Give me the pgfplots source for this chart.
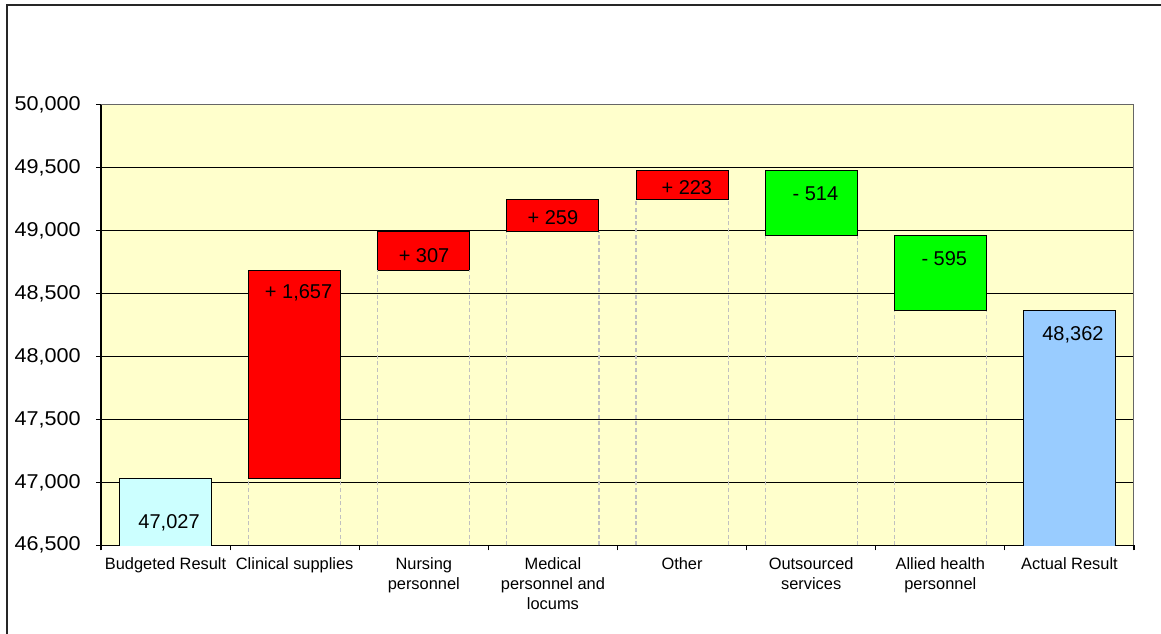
\documentclass[border=0pt]{standalone}
\usepackage{fontspec}
\setmainfont{Liberation Sans}
\newfontfamily\tickfont{Liberation Sans}[FakeStretch=1.08]
\usepackage{pgfplots}
\pgfplotsset{compat=1.18}
\definecolor{bgyellow}{HTML}{FFFFCC}
\definecolor{barcyan}{HTML}{CCFFFF}
\definecolor{barred}{HTML}{FF0000}
\definecolor{bargreen}{HTML}{00FF00}
\definecolor{barblue}{HTML}{99CCFF}
\definecolor{dashgray}{HTML}{C0C0C0}
\begin{document}
\begin{tikzpicture}
\useasboundingbox (-75.75pt,-66.5pt) rectangle (795pt,409pt);
\draw[line width=1.5pt, black!85] (-70.5pt,-80pt) -- (-70.5pt,405.2pt) -- (800pt,405.2pt);
\begin{axis}[
  at={(0,0)}, anchor=south west,
  scale only axis, width=774.75pt, height=330.5pt,
  xmin=-0.5, xmax=7.5, ymin=46500, ymax=50000,
  ybar stacked, bar width=0.713,
  axis background/.style={fill=bgyellow},
  axis x line*=bottom, axis y line*=left,
  axis line style={black, line width=0.8pt},
  ytick={46500,47000,...,50000},
  scaled y ticks=false,
  ymajorgrids, grid style={black, line width=0.8pt},
  xtick={0,...,7},
  xticklabels={Budgeted Result, Clinical supplies, Nursing\\personnel, Medical\\personnel and\\locums, Other, Outsourced\\services, Allied health\\personnel, Actual Result},
  minor xtick={-0.5,0.5,...,7.5},
  tick align=outside,
  major tick length=3.75pt, minor tick length=3.75pt,
  major x tick style={draw=none},
  minor x tick style={black, line width=0.8pt},
  major y tick style={black, line width=0.8pt},
  xticklabel style={align=center, anchor=north, font=\fontsize{12.3}{15}\selectfont, yshift=-2pt},
  yticklabel style={font=\tickfont\fontsize{15}{17}\selectfont, xshift=-8pt},
  /pgf/number format/.cd, fixed, 1000 sep={,}, assume math mode=true,
]
\addplot[fill=none, draw=none]
  coordinates {(0,0) (1,47027) (2,48684) (3,48991) (4,49250) (5,48959) (6,48364) (7,0)};
\addplot[fill=barcyan, draw=black, line width=0.75pt]
  coordinates {(0,47027) (1,0) (2,0) (3,0) (4,0) (5,0) (6,0) (7,0)};
\addplot[fill=barred, draw=black, line width=0.75pt]
  coordinates {(0,0) (1,1657) (2,307) (3,259) (4,223) (5,0) (6,0) (7,0)};
\addplot[fill=bargreen, draw=black, line width=0.75pt]
  coordinates {(0,0) (1,0) (2,0) (3,0) (4,0) (5,514) (6,595) (7,0)};
\addplot[fill=barblue, draw=black, line width=0.75pt]
  coordinates {(0,0) (1,0) (2,0) (3,0) (4,0) (5,0) (6,0) (7,48362)};
\draw[black!60, line width=1pt] (rel axis cs:0,1) -- (rel axis cs:1,1) -- (rel axis cs:1,0);
\end{axis}
% dashed connector lines below floating bars
\begin{axis}[
  at={(0,0)}, anchor=south west,
  scale only axis, width=774.75pt, height=330.5pt,
  xmin=-0.5, xmax=7.5, ymin=46500, ymax=50000,
  hide axis,
]
\addplot[ycomb, mark=none, draw=dashgray, dash pattern=on 3pt off 2pt, line width=0.8pt]
  coordinates {(0.6435,47027) (1.3565,47027) (1.6435,48684) (2.3565,48684)
               (2.6435,48991) (3.3565,48991) (3.6435,49250) (4.3565,49250)
               (4.6435,48959) (5.3565,48959) (5.6435,48364) (6.3565,48364)};
\end{axis}
\begin{axis}[
  at={(0,0)}, anchor=south west,
  scale only axis, width=774.75pt, height=330.5pt,
  xmin=-0.5, xmax=7.5, ymin=46500, ymax=50000,
  hide axis, clip=false,
  nodes near coords,
  every node near coord/.append style={anchor=center, font=\fontsize{15}{17}\selectfont, text depth=0pt, inner sep=0pt},
]
\addplot[draw=none, mark=none, point meta=explicit symbolic]
  coordinates {(0.027,46693) [47{,}027] (1.03,48512) [+ 1{,}657] (2.002,48798) [+ 307] (3.0,49100) [+ 259] (4.037,49342) [+ 223] (5.033,49296) [- 514] (6.031,48780) [- 595] (7.027,48184) [48{,}362]};
\end{axis}
\end{tikzpicture}
\end{document}
